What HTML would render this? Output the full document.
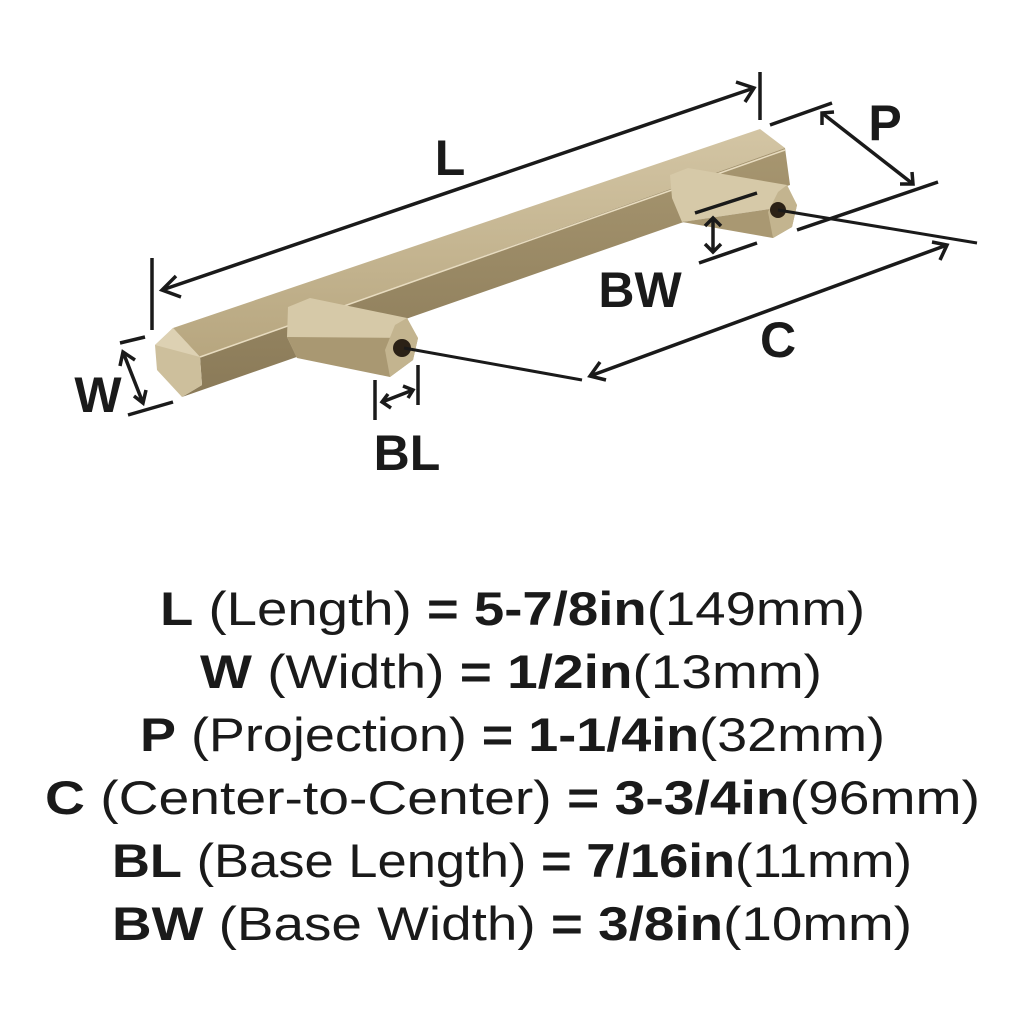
<!DOCTYPE html>
<html><head><meta charset="utf-8"><style>
html,body{margin:0;padding:0;background:#fff}
svg{display:block}
</style></head><body>
<svg width="1024" height="1024" viewBox="0 0 1024 1024" xmlns="http://www.w3.org/2000/svg">
<defs>
<linearGradient id="g1" x1="0" y1="0" x2="0" y2="1">
<stop offset="0" stop-color="#d3c5a4"/><stop offset="1" stop-color="#b7a67f"/></linearGradient>
<linearGradient id="g2" x1="0" y1="0" x2="0" y2="1">
<stop offset="0" stop-color="#a79670"/><stop offset="1" stop-color="#8a7a58"/></linearGradient>
</defs>
<rect width="1024" height="1024" fill="#fff"/>
<!-- bar -->
<polygon points="173,328 760,129 785,148 200,357" fill="url(#g1)"/>
<polygon points="200,357 785,148 790,185 182,397 202,385" fill="url(#g2)"/>
<polygon points="173,328 200,357 202,385 182,397 157,370 155,345" fill="#cdbf9c"/>
<polygon points="173,328 200,357 155,345" fill="#ddd1b3"/>
<line x1="200" y1="357" x2="785" y2="150" stroke="#e8dcc0" stroke-width="1.5"/>
<!-- left post -->
<polygon points="288,307 310,298 407,318 418,338 297,358 287,337" fill="#d6c9a8"/>
<polygon points="287,337 418,338 413,360 390,377 297,358" fill="#a99872"/>
<polygon points="407,318 418,338 413,360 390,377 385,350 395,325" fill="#c3b48f"/>
<circle cx="402" cy="348" r="9" fill="#2b2116"/>
<!-- right post -->
<polygon points="670,175 688,168 787,185 797,205 682,222 672,198" fill="#d6c9a8"/>
<polygon points="682,222 797,205 792,227 773,238" fill="#a99872"/>
<polygon points="787,185 797,205 792,227 773,238 768,212 778,192" fill="#c3b48f"/>
<circle cx="778" cy="210" r="8" fill="#2b2116"/>
<!-- dimension lines -->
<g stroke="#1a1a1a" stroke-width="3.5" fill="none" stroke-linecap="butt">
<line x1="152" y1="258" x2="152" y2="330"/>
<line x1="760" y1="72" x2="760" y2="120"/>
<line x1="162" y1="290" x2="754" y2="88"/>
<polyline points="176,276 162,290 181,297"/>
<polyline points="736,82 754,88 745,102"/>
<line x1="770" y1="125" x2="832" y2="103"/>
<line x1="797" y1="230" x2="938" y2="182"/>
<line x1="822" y1="113" x2="913" y2="184"/>
<polyline points="822,125 822,113 834,112"/>
<polyline points="900,184 913,184 912,172"/>
<line x1="695" y1="213" x2="757" y2="193"/>
<line x1="699" y1="263" x2="757" y2="243"/>
<line x1="713" y1="218" x2="713" y2="252"/>
<polyline points="705,226 713,218 721,226"/>
<polyline points="705,244 713,252 721,244"/>
<line x1="778" y1="210" x2="977" y2="243" stroke-width="3"/>
<line x1="404" y1="348" x2="582" y2="380" stroke-width="3"/>
<line x1="590" y1="376" x2="947" y2="245"/>
<polyline points="600,362 590,376 606,380"/>
<polyline points="932,242 947,245 940,260"/>
<line x1="120" y1="343" x2="145" y2="337"/>
<line x1="128" y1="415" x2="173" y2="402"/>
<line x1="123" y1="352" x2="143" y2="403"/>
<polyline points="120,366 123,352 135,360"/>
<polyline points="134,396 143,403 146,390"/>
<line x1="375" y1="380" x2="375" y2="420"/>
<line x1="418" y1="365" x2="418" y2="405"/>
<line x1="382" y1="402" x2="413" y2="390"/>
<polyline points="391,408 382,402 388,394"/>
<polyline points="403,386 413,390 408,398"/>
</g>
<g font-family="Liberation Sans, sans-serif" font-weight="bold" fill="#1a1a1a" font-size="50">
<text x="450" y="175" text-anchor="middle">L</text>
<text x="885" y="140" text-anchor="middle">P</text>
<text x="640" y="307" text-anchor="middle">BW</text>
<text x="778" y="357" text-anchor="middle">C</text>
<text x="98" y="412" text-anchor="middle">W</text>
<text x="407" y="470" text-anchor="middle">BL</text>
</g>
<g font-family="Liberation Sans, sans-serif" font-size="47" fill="#1a1a1a">
<text x="160" y="625" textLength="705" lengthAdjust="spacingAndGlyphs"><tspan font-weight="bold">L</tspan> (Length) <tspan font-weight="bold">= 5-7/8in</tspan>(149mm)</text>
<text x="200" y="688" textLength="622" lengthAdjust="spacingAndGlyphs"><tspan font-weight="bold">W</tspan> (Width) <tspan font-weight="bold">= 1/2in</tspan>(13mm)</text>
<text x="140" y="751" textLength="745" lengthAdjust="spacingAndGlyphs"><tspan font-weight="bold">P</tspan> (Projection) <tspan font-weight="bold">= 1-1/4in</tspan>(32mm)</text>
<text x="45" y="814" textLength="935" lengthAdjust="spacingAndGlyphs"><tspan font-weight="bold">C</tspan> (Center-to-Center) <tspan font-weight="bold">= 3-3/4in</tspan>(96mm)</text>
<text x="112" y="877" textLength="800" lengthAdjust="spacingAndGlyphs"><tspan font-weight="bold">BL</tspan> (Base Length) <tspan font-weight="bold">= 7/16in</tspan>(11mm)</text>
<text x="112" y="940" textLength="800" lengthAdjust="spacingAndGlyphs"><tspan font-weight="bold">BW</tspan> (Base Width) <tspan font-weight="bold">= 3/8in</tspan>(10mm)</text>
</g>
</svg>
</body></html>
